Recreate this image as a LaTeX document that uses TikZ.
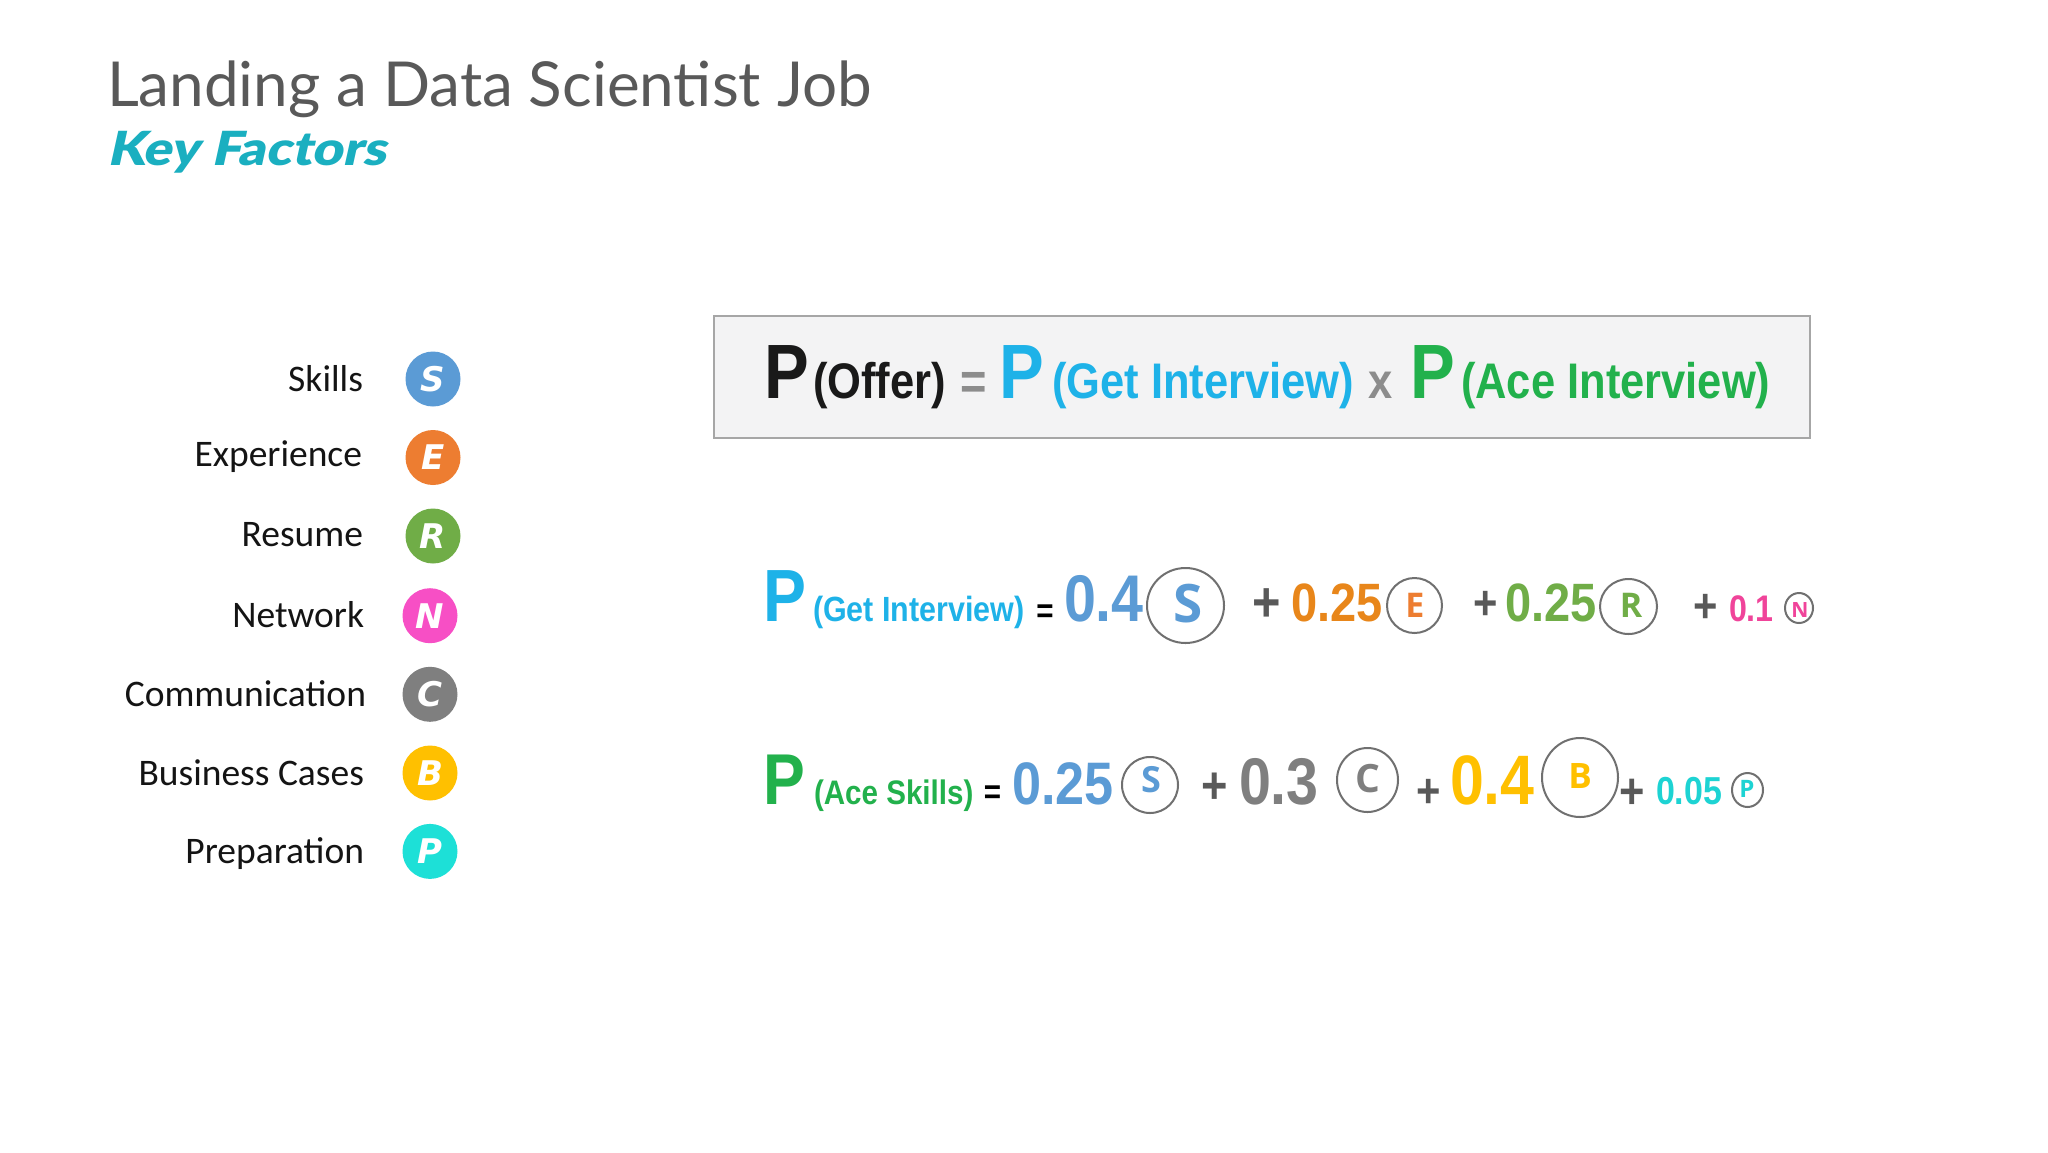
\documentclass[tikz,border=0pt]{standalone}
\usepackage{fontspec}
\setmainfont{Carlito}
\newfontfamily\titlef{Lato}
\newfontfamily\keyf[FakeStretch=1.13,FakeSlant=0.22]{Lato Black}
\newfontfamily\eqf[FakeStretch=0.87]{Liberation Sans}
\newfontfamily\ringf{Open Sans}
\newfontfamily\circf{DejaVu Sans}
\usetikzlibrary{shapes.geometric}
\newcommand\fs[1]{\fontsize{#1}{#1}\selectfont}
\definecolor{titlegray}{HTML}{595959}
\definecolor{keyteal}{HTML}{1AAFC0}
\definecolor{cS}{HTML}{5B9BD5}
\definecolor{cE}{HTML}{ED7D31}
\definecolor{cR}{HTML}{70AD47}
\definecolor{cN}{HTML}{F74FC5}
\definecolor{cC}{HTML}{7F7F7F}
\definecolor{cB}{HTML}{FFC000}
\definecolor{cP}{HTML}{1DE0D7}
\definecolor{pblue}{HTML}{1EB2E8}
\definecolor{pgreen}{HTML}{22B14C}
\definecolor{eorange}{HTML}{E8861A}
\definecolor{npink}{HTML}{F0449A}
\definecolor{pcyan}{HTML}{1DD3D3}
\definecolor{opgray}{HTML}{595959}
\definecolor{ringgray}{HTML}{707070}
\definecolor{boxfill}{HTML}{F3F3F4}
\definecolor{boxline}{HTML}{A6A6A6}
\begin{document}
\begin{tikzpicture}[x=1pt,y=-1pt,
  txt/.style={inner sep=0pt,outer sep=0pt},
  lab/.style={txt,anchor=base east,font=\fs{37.5},text=black!92},
  badge/.style={circle,minimum size=55pt,inner sep=0pt,text=white,font=\circf\bfseries\itshape\fs{34}},
  eqt/.style={txt,anchor=base west},
  op/.style={txt,anchor=center,text=opgray},
  ring/.style={ellipse,draw=ringgray,line width=2pt,inner sep=0pt},
  rl/.style={txt,anchor=center}]
\useasboundingbox (0,0) rectangle (2048,1152);
\fill[white] (0,0) rectangle (2048,1152);
% title
\node[eqt,font=\titlef\fs{62},text=titlegray] (title) at (107,106) {Landing a Data Scientist Job};
\node[eqt,font=\keyf\fs{47},text=keyteal] (sub) at (107,165) {Key Factors};
% left legend
\node[lab] (lS) at (363,391.4) {Skills};
\node[lab] (lE) at (362,466.4) {Experience};
\node[lab] (lR) at (363,546.8) {Resume};
\node[lab] (lN) at (364,627.5) {Network};
\node[lab] (lC) at (366,706.8) {Communication};
\node[lab] (lB) at (364,785.4) {Business Cases};
\node[lab] (lP) at (364,863.2) {Preparation};
\node[badge,fill=cS] (bS) at (433,379) {S};
\node[badge,fill=cE] (bE) at (433,457.5) {E};
\node[badge,fill=cR] (bR) at (433,536) {R};
\node[badge,fill=cN] (bN) at (430,615.7) {N};
\node[badge,fill=cC] (bC) at (430,694.3) {C};
\node[badge,fill=cB] (bB) at (430,773) {B};
\node[badge,fill=cP] (bP) at (430,851.4) {P};
% box formula
\node[draw=boxline,fill=boxfill,line width=2pt,minimum width=1096pt,minimum height=122pt,inner sep=0pt,anchor=north west] (box) at (713,315) {};
\node[eqt,font=\eqf\bfseries\fs{77},text=black!90] (P0) at (764,398) {P};
\node[eqt,font=\eqf\bfseries\fs{50},text=black!90] (offer) at (813,398) {(Offer)};
\node[op,font=\eqf\bfseries\fs{52},text=black!45] (eq0) at (974,386) {=};
\node[eqt,font=\eqf\bfseries\fs{77},text=pblue] (P1) at (999,398) {P};
\node[eqt,font=\eqf\bfseries\fs{50},text=pblue] (gi) at (1052,398) {(Get Interview)};
\node[eqt,font=\eqf\bfseries\fs{50},text=black!45] (times) at (1368,398) {x};
\node[eqt,font=\eqf\bfseries\fs{77},text=pgreen] (P2) at (1410,398) {P};
\node[eqt,font=\eqf\bfseries\fs{50},text=pgreen] (ai) at (1461,398) {(Ace Interview)};
% row 2
\node[eqt,font=\eqf\bfseries\fs{74},text=pblue] (P3) at (763,621) {P};
\node[eqt,font=\eqf\bfseries\fs{35},text=pblue] (gi2) at (813,621) {(Get Interview)};
\node[op,font=\eqf\bfseries\fs{34},text=black] (eq1) at (1045,614) {=};
\node[eqt,font=\eqf\bfseries\fs{66},text=cS] (n1) at (1064,621) {0.4};
\node[ring,minimum width=77pt,minimum height=75pt] (r1) at (1185.5,605.5) {};
\node[rl,font=\ringf\bfseries\fs{53},text=cS] (t1) at (1188,604) {S};
\node[op,font=\eqf\bfseries\fs{56}] (a1) at (1266.5,605) {+};
\node[eqt,font=\eqf\bfseries\fs{54},text=eorange] (n2) at (1291,621) {0.25};
\node[ring,minimum width=55pt,minimum height=55pt] (r2) at (1414.5,605.5) {};
\node[rl,font=\ringf\bfseries\fs{34},text=cE] (t2) at (1415,605) {E};
\node[op,font=\eqf\bfseries\fs{48}] (a2) at (1485.5,605.5) {+};
\node[eqt,font=\eqf\bfseries\fs{54},text=cR] (n3) at (1505,621) {0.25};
\node[ring,minimum width=57pt,minimum height=55pt] (r3) at (1628.5,606.5) {};
\node[rl,font=\ringf\bfseries\fs{34},text=cR] (t3) at (1631,605) {R};
\node[op,font=\eqf\bfseries\fs{48}] (a3) at (1706,608) {+};
\node[eqt,font=\eqf\bfseries\fs{37},text=npink] (n4) at (1729,621) {0.1};
\node[ring,minimum width=28pt,minimum height=30pt] (r4) at (1799,608) {};
\node[rl,font=\ringf\bfseries\fs{21},text=npink] (t4) at (1800,609.5) {N};
% row 3
\node[eqt,font=\eqf\bfseries\fs{72},text=pgreen] (P4) at (763,804) {P};
\node[eqt,font=\eqf\bfseries\fs{34},text=pgreen] (as) at (814,804) {(Ace Skills)};
\node[op,font=\eqf\bfseries\fs{34},text=black] (eq2) at (992.5,795) {=};
\node[eqt,font=\eqf\bfseries\fs{60},text=cS] (m1) at (1012,804) {0.25};
\node[ring,minimum width=56pt,minimum height=56pt] (s1) at (1150,785) {};
\node[rl,font=\ringf\bfseries\fs{36},text=cS] (u1) at (1151,780) {S};
\node[op,font=\eqf\bfseries\fs{52}] (b1) at (1215,788) {+};
\node[eqt,font=\eqf\bfseries\fs{66},text=cC] (m2) at (1239,804) {0.3};
\node[ring,minimum width=61pt,minimum height=64pt] (s2) at (1367.5,780) {};
\node[rl,font=\ringf\bfseries\fs{39},text=cC] (u2) at (1368,779) {C};
\node[op,font=\eqf\bfseries\fs{48}] (b2) at (1429,793.5) {+};
\node[eqt,font=\eqf\bfseries\fs{70},text=cB] (m3) at (1450,804) {0.4};
\node[ring,minimum width=76pt,minimum height=79pt] (s3) at (1580,777.5) {};
\node[rl,font=\ringf\bfseries\fs{35},text=cB] (u3) at (1580,775.5) {B};
\node[op,font=\eqf\bfseries\fs{50}] (b3) at (1632.5,794) {+};
\node[eqt,font=\eqf\bfseries\fs{39},text=pcyan] (m4) at (1656,804) {0.05};
\node[ring,minimum width=31pt,minimum height=34pt] (s4) at (1747.5,790) {};
\node[rl,font=\ringf\bfseries\fs{24},text=pcyan] (u4) at (1747,788.5) {P};
\end{tikzpicture}
\end{document}
